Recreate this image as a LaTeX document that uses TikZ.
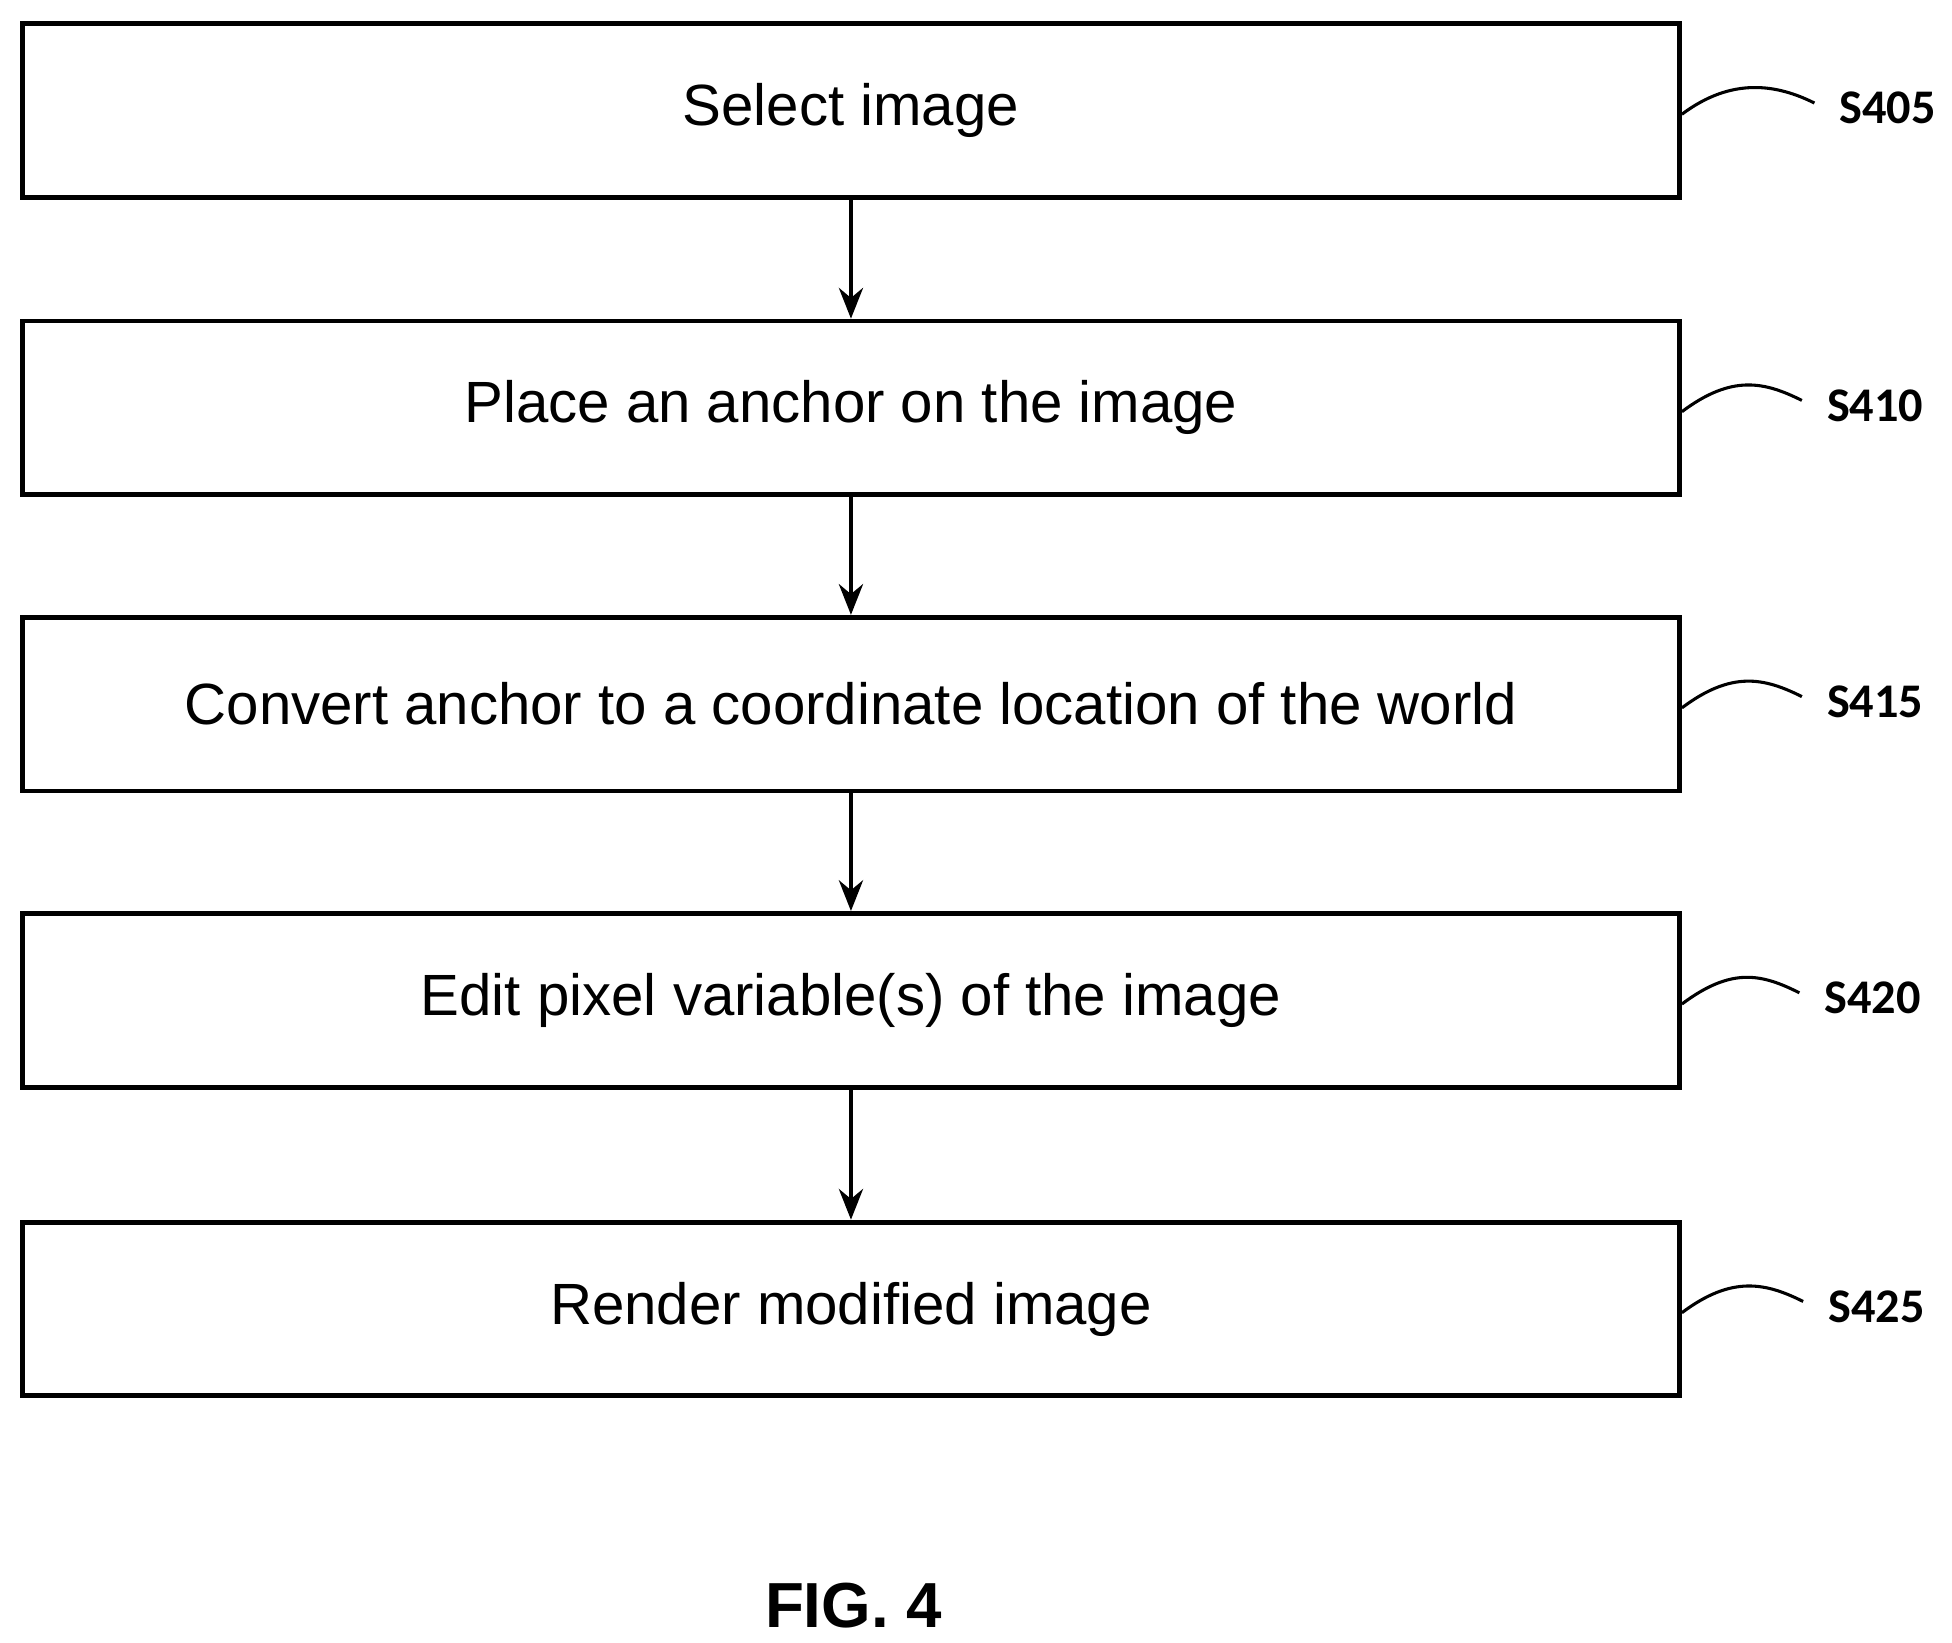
\documentclass[tikz,border=0pt]{standalone}
\usepackage{fontspec}
\setmainfont{Liberation Sans}
\newfontfamily\lblfont{Carlito}
\usetikzlibrary{arrows.meta}
\begin{document}
\begin{tikzpicture}[x=0.02cm,y=-0.02cm,
  box/.style={draw,line width=2.2pt,minimum width=1326*0.02cm,minimum height=139*0.02cm,anchor=north west,inner sep=0pt,font=\fontsize{26.5}{30}\selectfont},
  arr/.style={-{Stealth[length=14pt,width=11pt]},line width=1.8pt},
  sq/.style={line width=1.4pt},
  lbl/.style={font=\lblfont\bfseries\fontsize{22}{26}\selectfont,anchor=west}]
\useasboundingbox (0,0) rectangle (1562,1314);
\node[box] (b1) at (16,17) {Select image};
\node[box] (b2) at (16,255) {Place an anchor on the image};
\node[box] (b3) at (16,492) {Convert anchor to a coordinate location of the world};
\node[box] (b4) at (16,729) {Edit pixel variable(s) of the image};
\node[box] (b5) at (16,976) {Render modified image};
\foreach \a/\b in {b1/b2,b2/b3,b3/b4,b4/b5}
  \draw[arr] (\a.south) -- (\b.north);
\foreach \n/\t/\lx in {b1/S405/1468,b2/S410/1458,b3/S415/1458,b4/S420/1456,b5/S425/1459}{
  \coordinate (s\n) at ([yshift=-3*0.02cm]\n.east);
  \coordinate (e\n) at ([xshift=(\lx-1348-14)*0.02cm,yshift=6*0.02cm]\n.east);
  \draw[sq] (s\n) .. controls +(40,-30) and +(-30,-15) .. (e\n);
  \node[lbl] (l\n) at ([xshift=(\lx-1348)*0.02cm,yshift=2*0.02cm]\n.east) {\t};
}
\node[font=\bfseries\fontsize{29}{33}\selectfont] (fig) at (683,1285) {FIG. 4};
\end{tikzpicture}
\end{document}
